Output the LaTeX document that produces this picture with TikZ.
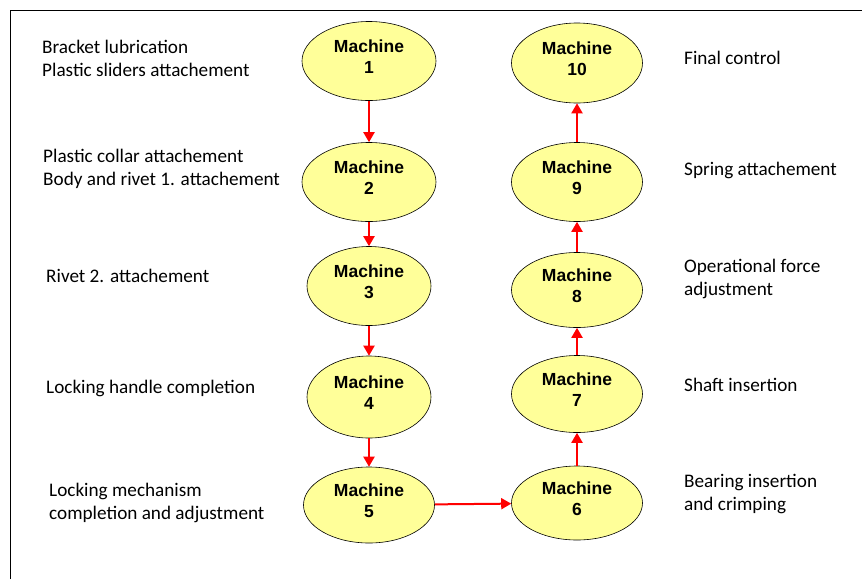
\documentclass[tikz,border=0pt]{standalone}
\usepackage{fontspec}
\setmainfont{Carlito}
\newfontfamily\machfont{Liberation Sans}
\usetikzlibrary{shapes.geometric,arrows.meta}

\definecolor{machyellow}{RGB}{255,255,153}

\begin{document}
\begin{tikzpicture}[x=1pt,y=-1pt,
    machine/.style={ellipse, draw, semithick, fill=machyellow, minimum width=131, minimum height=79,
      inner sep=0pt, align=center, text depth=9pt, font=\machfont\fontsize{17.5}{21}\selectfont\bfseries},
    step text/.style={anchor=west, align=left, inner sep=0pt, font=\fontsize{19.2}{23}\selectfont},
    flow/.style={red, line width=2pt, -{Triangle[length=10pt,width=11pt]}}]
	  \useasboundingbox (0,0) rectangle (862,579);
	  \draw[semithick] (10,579) -- (10,10) -- (862,10);   % frame

	  % left column
	  \node[machine, minimum width=134] (m1) at (369,61) {Machine\\1};
	  \node[machine, minimum width=134] (m2) at (369,182) {Machine\\2};
	  \node[machine, minimum width=124] (m3) at (369,286) {Machine\\3};
	  \node[machine, minimum width=124, minimum height=82] (m4) at (369,397) {Machine\\4};
	  \node[machine, minimum height=76] (m5) at (369,505) {Machine\\5};

	  % right column
	  \node[machine, minimum height=74] (m6) at (577,503) {Machine\\6};
	  \node[machine, minimum height=77] (m7) at (577,394) {Machine\\7};
	  \node[machine, minimum height=75] (m8) at (577,290) {Machine\\8};
	  \node[machine] (m9) at (577,182) {Machine\\9};
	  \node[machine, minimum height=80] (m10) at (577,63) {Machine\\10};

	  \draw[flow] (m1) -- (m2);
	  \draw[flow] (m2) -- (m3);
	  \draw[flow] (m3) -- (m4);
	  \draw[flow] (m4) -- (m5);
	  \draw[flow] (m5) -- (m6);
	  \draw[flow] (m6) -- (m7);
	  \draw[flow] (m7) -- (m8);
	  \draw[flow] (m8) -- (m9);
	  \draw[flow] (m9) -- (m10);

	  \node[step text] (t1) at (42,58) {Bracket lubrication\\Plastic sliders attachement};
	  \node[step text] (t2) at (43,169) {Plastic collar attachement\\Body and rivet 1. attachement};
	  \node[step text] (t3) at (46,276) {Rivet 2. attachement};
	  \node[step text] (t4) at (46,388) {Locking handle completion};
	  \node[step text] (t5) at (49,503) {Locking mechanism\\completion and adjustment};
	  \node[step text] (t6) at (684,494) {Bearing insertion\\and crimping};
	  \node[step text] (t7) at (684,385) {Shaft insertion};
	  \node[step text] (t8) at (684,279) {Operational force\\adjustment};
	  \node[step text] (t9) at (684,170) {Spring attachement};
	  \node[step text] (t10) at (684,58) {Final control};
	\end{tikzpicture}
\end{document}
